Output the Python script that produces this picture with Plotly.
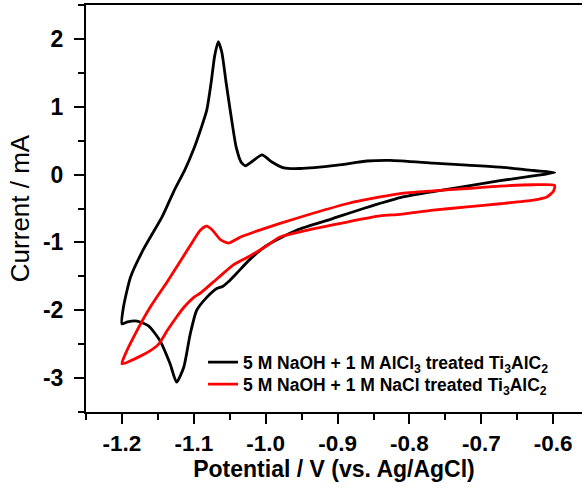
import plotly.graph_objects as go

# Black curve: 5 M NaOH + 1 M AlCl3 treated Ti3AlC2
black_v = [-0.598, -0.628, -0.674, -0.720, -0.767, -0.813, -0.864, -0.910, -0.957, -0.998,
           -1.022, -1.040, -1.052, -1.060, -1.068, -1.082, -1.096, -1.105, -1.114, -1.124,
           -1.133, -1.147, -1.163, -1.179, -1.192, -1.200, -1.198, -1.188, -1.170, -1.144,
           -1.128, -1.112, -1.100, -1.090, -1.082, -1.076, -1.071, -1.066, -1.061, -1.055,
           -1.048, -1.041, -1.034, -1.028, -1.018, -1.005, -0.992, -0.975, -0.952, -0.900,
           -0.859, -0.827, -0.767, -0.720, -0.673, -0.628, -0.598]
black_i = [0.03, -0.02, -0.09, -0.17, -0.25, -0.34, -0.50, -0.66, -0.82, -1.04,
           -1.25, -1.45, -1.58, -1.65, -1.68, -1.81, -2.00, -2.35, -2.84, -3.06,
           -2.79, -2.45, -2.23, -2.16, -2.17, -2.20, -1.96, -1.51, -1.10, -0.62,
           -0.25, 0.08, 0.38, 0.68, 0.95, 1.35, 1.75, 1.96, 1.80, 1.35,
           0.85, 0.40, 0.18, 0.13, 0.20, 0.29, 0.19, 0.10, 0.09, 0.14,
           0.20, 0.21, 0.17, 0.14, 0.11, 0.06, 0.03]

# Red curve: 5 M NaOH + 1 M NaCl treated Ti3AlC2
red_v = [-1.200, -1.175, -1.161, -1.149, -1.137, -1.124, -1.114, -1.100, -1.090, -1.066,
         -1.045, -1.022, -1.000, -0.980, -0.934, -0.887, -0.841, -0.813, -0.767, -0.720,
         -0.674, -0.628, -0.609, -0.600, -0.598, -0.628, -0.674, -0.720, -0.767, -0.813,
         -0.841, -0.887, -0.934, -0.980, -1.017, -1.035, -1.052, -1.063, -1.074, -1.082,
         -1.091, -1.107, -1.137, -1.161, -1.184, -1.195, -1.200]
red_i = [-2.79, -2.68, -2.60, -2.50, -2.30, -2.10, -1.96, -1.81, -1.74, -1.52,
         -1.33, -1.20, -1.06, -0.92, -0.80, -0.70, -0.61, -0.585, -0.525, -0.476,
         -0.43, -0.377, -0.33, -0.25, -0.16, -0.15, -0.17, -0.205, -0.24, -0.28,
         -0.33, -0.43, -0.57, -0.72, -0.85, -0.92, -1.01, -0.96, -0.82, -0.76,
         -0.82, -1.08, -1.58, -1.96, -2.40, -2.64, -2.79]

x_tickvals = [-1.2, -1.1, -1.0, -0.9, -0.8, -0.7, -0.6]
x_ticktext = ["-1.2", "-1.1", "-1.0", "-0.9", "-0.8", "-0.7", "-0.6"]
y_tickvals = [-3, -2, -1, 0, 1, 2]
y_ticktext = ["-3", "-2", "-1", "0", "1", "2"]

FONT = "Liberation Sans, Arial, sans-serif"
LEG_FONT = dict(size=17.5, family=FONT, weight="bold", color="black")

fig = go.Figure()
fig.add_trace(go.Scatter(
    x=black_v, y=black_i, mode="lines", legend="legend",
    line=dict(color="black", width=2.8, shape="spline", smoothing=0.6),
    name="5 M NaOH + 1 M AlCl<sub>3</sub> treated Ti<sub>3</sub>AlC<sub>2</sub>"))
fig.add_trace(go.Scatter(
    x=red_v, y=red_i, mode="lines", legend="legend2",
    line=dict(color="#ff0000", width=2.8, shape="spline", smoothing=0.6),
    name="5 M NaOH + 1 M NaCl treated Ti<sub>3</sub>AlC<sub>2</sub>"))

fig.update_layout(
    width=582, height=495,
    margin=dict(l=86, r=0, t=5, b=83),
    paper_bgcolor="white", plot_bgcolor="white",
    font=dict(family=FONT, color="black"),
    showlegend=True,
    legend=dict(x=0.236, y=0.122, xanchor="left", yanchor="middle",
                bgcolor="rgba(0,0,0,0)", font=LEG_FONT, itemwidth=30),
    legend2=dict(x=0.236, y=0.068, xanchor="left", yanchor="middle",
                 bgcolor="rgba(0,0,0,0)", font=LEG_FONT, itemwidth=30),
    xaxis=dict(
        range=[-1.25, -0.56], showgrid=False, zeroline=False,
        showline=True, linecolor="black", linewidth=2, mirror=True,
        ticks="outside", ticklen=10, tickwidth=2, tickcolor="black",
        tickvals=x_tickvals, ticktext=x_ticktext,
        tickfont=dict(size=22.5, family=FONT, weight="bold"),
        minor=dict(dtick=0.05, tick0=-1.2, ticks="outside", ticklen=6, tickwidth=2, tickcolor="black"),
        title=dict(text="Potential / V (vs. Ag/AgCl)", standoff=6,
                   font=dict(size=23, family=FONT, weight="bold")),
    ),
    yaxis=dict(
        range=[-3.5, 2.5], showgrid=False, zeroline=False,
        showline=True, linecolor="black", linewidth=2, mirror=False,
        ticks="outside", ticklen=10, tickwidth=2, tickcolor="black",
        tickvals=y_tickvals, ticktext=y_ticktext, ticklabelstandoff=6,
        tickfont=dict(size=23, family=FONT, weight="bold"),
        minor=dict(dtick=0.5, tick0=0, ticks="outside", ticklen=6, tickwidth=2, tickcolor="black"),
        title=dict(text="Current / mA", standoff=6,
                   font=dict(size=26, family=FONT)),
    ),
)

fig.write_html("out.html")
